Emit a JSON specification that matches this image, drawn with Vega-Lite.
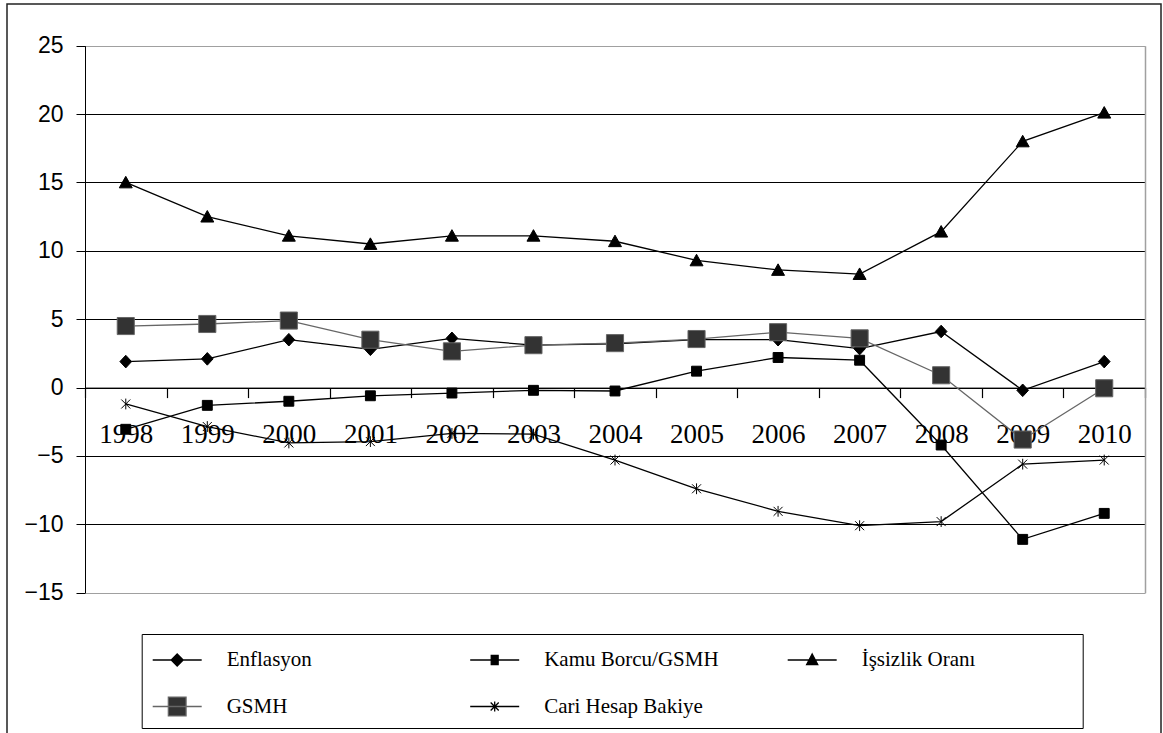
{
  "$schema": "https://vega.github.io/schema/vega-lite/v6.json",
  "width": 1154,
  "height": 729,
  "autosize": {"type": "none"},
  "padding": {"left": 7, "top": 4, "right": 2, "bottom": 0},
  "background": "white",
  "config": {
    "view": {"stroke": "#222", "strokeWidth": 1.5, "strokeDash": [1883, 1154, 729, 100000]},
    "font": "Liberation Sans"
  },
  "datasets": {
    "seriler": [
      {"yil": "1998", "seri": "Enflasyon", "deger": 1.9},
      {"yil": "1999", "seri": "Enflasyon", "deger": 2.1},
      {"yil": "2000", "seri": "Enflasyon", "deger": 3.5},
      {"yil": "2001", "seri": "Enflasyon", "deger": 2.8},
      {"yil": "2002", "seri": "Enflasyon", "deger": 3.6},
      {"yil": "2003", "seri": "Enflasyon", "deger": 3.1},
      {"yil": "2004", "seri": "Enflasyon", "deger": 3.2},
      {"yil": "2005", "seri": "Enflasyon", "deger": 3.5},
      {"yil": "2006", "seri": "Enflasyon", "deger": 3.5},
      {"yil": "2007", "seri": "Enflasyon", "deger": 2.85},
      {"yil": "2008", "seri": "Enflasyon", "deger": 4.1},
      {"yil": "2009", "seri": "Enflasyon", "deger": -0.2},
      {"yil": "2010", "seri": "Enflasyon", "deger": 1.9},

      {"yil": "1998", "seri": "Kamu Borcu/GSMH", "deger": -3.05},
      {"yil": "1999", "seri": "Kamu Borcu/GSMH", "deger": -1.3},
      {"yil": "2000", "seri": "Kamu Borcu/GSMH", "deger": -1.0},
      {"yil": "2001", "seri": "Kamu Borcu/GSMH", "deger": -0.6},
      {"yil": "2002", "seri": "Kamu Borcu/GSMH", "deger": -0.4},
      {"yil": "2003", "seri": "Kamu Borcu/GSMH", "deger": -0.2},
      {"yil": "2004", "seri": "Kamu Borcu/GSMH", "deger": -0.25},
      {"yil": "2005", "seri": "Kamu Borcu/GSMH", "deger": 1.2},
      {"yil": "2006", "seri": "Kamu Borcu/GSMH", "deger": 2.2},
      {"yil": "2007", "seri": "Kamu Borcu/GSMH", "deger": 2.0},
      {"yil": "2008", "seri": "Kamu Borcu/GSMH", "deger": -4.2},
      {"yil": "2009", "seri": "Kamu Borcu/GSMH", "deger": -11.1},
      {"yil": "2010", "seri": "Kamu Borcu/GSMH", "deger": -9.2},

      {"yil": "1998", "seri": "İşsizlik Oranı", "deger": 15.0},
      {"yil": "1999", "seri": "İşsizlik Oranı", "deger": 12.5},
      {"yil": "2000", "seri": "İşsizlik Oranı", "deger": 11.1},
      {"yil": "2001", "seri": "İşsizlik Oranı", "deger": 10.5},
      {"yil": "2002", "seri": "İşsizlik Oranı", "deger": 11.1},
      {"yil": "2003", "seri": "İşsizlik Oranı", "deger": 11.1},
      {"yil": "2004", "seri": "İşsizlik Oranı", "deger": 10.7},
      {"yil": "2005", "seri": "İşsizlik Oranı", "deger": 9.3},
      {"yil": "2006", "seri": "İşsizlik Oranı", "deger": 8.6},
      {"yil": "2007", "seri": "İşsizlik Oranı", "deger": 8.3},
      {"yil": "2008", "seri": "İşsizlik Oranı", "deger": 11.4},
      {"yil": "2009", "seri": "İşsizlik Oranı", "deger": 18.0},
      {"yil": "2010", "seri": "İşsizlik Oranı", "deger": 20.1},

      {"yil": "1998", "seri": "GSMH", "deger": 4.5},
      {"yil": "1999", "seri": "GSMH", "deger": 4.65},
      {"yil": "2000", "seri": "GSMH", "deger": 4.9},
      {"yil": "2001", "seri": "GSMH", "deger": 3.5},
      {"yil": "2002", "seri": "GSMH", "deger": 2.65},
      {"yil": "2003", "seri": "GSMH", "deger": 3.1},
      {"yil": "2004", "seri": "GSMH", "deger": 3.25},
      {"yil": "2005", "seri": "GSMH", "deger": 3.55},
      {"yil": "2006", "seri": "GSMH", "deger": 4.05},
      {"yil": "2007", "seri": "GSMH", "deger": 3.6},
      {"yil": "2008", "seri": "GSMH", "deger": 0.9},
      {"yil": "2009", "seri": "GSMH", "deger": -3.8},
      {"yil": "2010", "seri": "GSMH", "deger": -0.05},

      {"yil": "1998", "seri": "Cari Hesap Bakiye", "deger": -1.2},
      {"yil": "1999", "seri": "Cari Hesap Bakiye", "deger": -2.85},
      {"yil": "2000", "seri": "Cari Hesap Bakiye", "deger": -4.05},
      {"yil": "2001", "seri": "Cari Hesap Bakiye", "deger": -3.95},
      {"yil": "2002", "seri": "Cari Hesap Bakiye", "deger": -3.35},
      {"yil": "2003", "seri": "Cari Hesap Bakiye", "deger": -3.4},
      {"yil": "2004", "seri": "Cari Hesap Bakiye", "deger": -5.3},
      {"yil": "2005", "seri": "Cari Hesap Bakiye", "deger": -7.4},
      {"yil": "2006", "seri": "Cari Hesap Bakiye", "deger": -9.05},
      {"yil": "2007", "seri": "Cari Hesap Bakiye", "deger": -10.1},
      {"yil": "2008", "seri": "Cari Hesap Bakiye", "deger": -9.8},
      {"yil": "2009", "seri": "Cari Hesap Bakiye", "deger": -5.6},
      {"yil": "2010", "seri": "Cari Hesap Bakiye", "deger": -5.3}
    ]
  },
  "data": {"name": "seriler"},
  "encoding": {
    "x": {
      "field": "yil",
      "type": "ordinal",
      "scale": {"type": "band", "range": [78, 1138], "paddingInner": 0, "paddingOuter": 0},
      "axis": {
        "orient": "bottom",
        "offset": -345.4,
        "title": null,
        "grid": false,
        "tickBand": "extent",
        "domainColor": "#000",
        "domainWidth": 1,
        "tickColor": "#000",
        "tickSize": 10,
        "tickWidth": 1.2,
        "labelAngle": 0,
        "labelFont": "Liberation Serif",
        "labelFontSize": 27,
        "labelColor": "#000",
        "labelPadding": 24
      }
    },
    "y": {
      "field": "deger",
      "type": "quantitative",
      "scale": {"domain": [-15, 25], "range": [588.7, 41.7], "nice": false, "zero": false}
    }
  },
  "layer": [
    {
      "mark": {"type": "line", "strokeWidth": 1.3},
      "encoding": {
        "y": {
          "field": "deger",
          "type": "quantitative",
          "axis": {
            "orient": "left",
            "offset": -78,
            "title": null,
            "values": [-15, -10, -5, 0, 5, 10, 15, 20, 25],
            "grid": true,
            "gridColor": {"condition": {"test": "datum.value === 25 || datum.value === -15", "value": "#a0a0a0"}, "value": "#000"},
            "gridWidth": 1,
            "domainColor": "#000",
            "domainWidth": 1,
            "tickColor": "#000",
            "tickSize": 9,
            "labelFont": "Liberation Sans",
            "labelFontSize": 23,
            "labelColor": "#000",
            "labelPadding": 13
          }
        },
        "detail": {"field": "seri"},
        "stroke": {"condition": {"test": "datum.seri === 'GSMH'", "value": "#666"}, "value": "#000"}
      }
    },
    {
      "mark": {"type": "point", "filled": true, "opacity": 1, "size": 324, "strokeWidth": 1},
      "encoding": {
        "y": {
          "field": "deger",
          "type": "quantitative",
          "axis": {
            "orient": "right",
            "offset": -16,
            "title": null,
            "grid": false,
            "labels": false,
            "ticks": false,
            "domainColor": "#a0a0a0",
            "domainWidth": 1.5
          }
        },
        "stroke": {"condition": {"test": "datum.seri === 'GSMH'", "value": "#666"}, "value": "#000"},
        "fill": {"condition": {"test": "datum.seri === 'GSMH'", "value": "#333"}, "value": "#000"},
        "shape": {
          "field": "seri",
          "type": "nominal",
          "scale": {
            "domain": ["Enflasyon", "Kamu Borcu/GSMH", "İşsizlik Oranı", "GSMH", "Cari Hesap Bakiye"],
            "range": [
              "M0,-0.7L0.65,0L0,0.7L-0.65,0Z",
              "M-0.55,-0.55L0.55,-0.55L0.55,0.55L-0.55,0.55Z",
              "M0,-0.68L0.72,0.6L-0.72,0.6Z",
              "M-0.95,-0.95L0.95,-0.95L0.95,0.95L-0.95,0.95Z",
              "M-0.5,-0.5L0.5,0.5M-0.5,0.5L0.5,-0.5M0,-0.6L0,0.6"
            ]
          },
          "legend": null
        }
      }
    },
    {
      "mark": {"type": "point", "filled": true, "opacity": 0, "size": 900, "strokeWidth": 1.3},
      "encoding": {
        "y": {"field": "deger", "type": "quantitative", "axis": null},
        "fill": {
          "field": "seri",
          "type": "nominal",
          "scale": {
            "domain": ["Enflasyon", "Kamu Borcu/GSMH", "İşsizlik Oranı", "GSMH", "Cari Hesap Bakiye"],
            "range": ["#000", "#000", "#000", "#333", "#000"]
          }
        },
        "stroke": {
          "field": "seri",
          "type": "nominal",
          "scale": {
            "domain": ["Enflasyon", "Kamu Borcu/GSMH", "İşsizlik Oranı", "GSMH", "Cari Hesap Bakiye"],
            "range": ["#000", "#000", "#000", "#666", "#000"]
          }
        },
        "shape": {
          "field": "seri",
          "type": "nominal",
          "scale": {
            "domain": ["Enflasyon", "Kamu Borcu/GSMH", "İşsizlik Oranı", "GSMH", "Cari Hesap Bakiye"],
            "range": [
              "M-1.633,0L1.633,0M0,-0.4L0.4,0L0,0.4L-0.4,0Z",
              "M-1.633,0L1.633,0M-0.23,-0.3L0.23,-0.3L0.23,0.3L-0.23,0.3Z",
              "M-1.633,0L1.633,0M0,-0.4L0.37,0.3L-0.37,0.3Z",
              "M-1.633,0L1.633,0M-0.59,-0.63L0.59,-0.63L0.59,0.63L-0.59,0.63Z",
              "M-1.633,0L1.633,0M-0.27,-0.27L0.27,0.27M-0.27,0.27L0.27,-0.27M0,-0.33L0,0.33"
            ]
          },
          "legend": {
            "orient": "none",
            "legendX": 134.7,
            "legendY": 630,
            "direction": "horizontal",
            "columns": 3,
            "gridAlign": "all",
            "title": "\u00a0",
            "titleOrient": "right",
            "titlePadding": 99,
            "titleFontSize": 21,
            "strokeColor": "#000",
            "fillColor": "#fff",
            "padding": 8.5,
            "symbolSize": 900,
            "symbolOffset": 11,
            "symbolOpacity": 1,
            "symbolStrokeWidth": 1.3,
            "labelFont": "Liberation Serif",
            "labelFontSize": 21,
            "labelColor": "#000",
            "labelOffset": 33.5,
            "labelLimit": 400,
            "columnPadding": 65.5,
            "rowPadding": 19
          }
        }
      }
    }
  ],
  "resolve": {
    "axis": {"y": "independent"},
    "scale": {"shape": "independent"},
    "legend": {"shape": "independent", "fill": "independent", "stroke": "independent"}
  }
}
